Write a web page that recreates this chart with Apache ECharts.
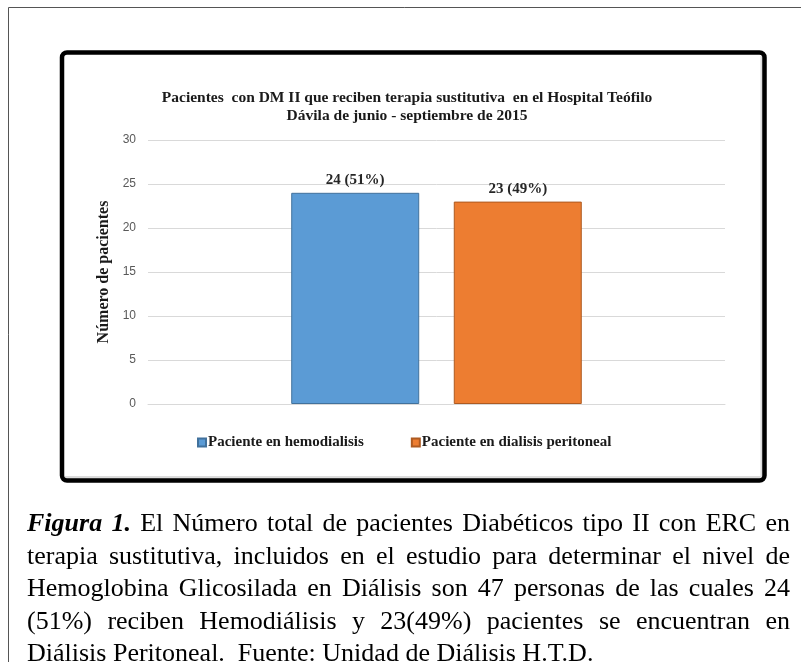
<!DOCTYPE html>
<html>
<head>
<meta charset="utf-8">
<script src="https://cdn.jsdelivr.net/npm/echarts@6/dist/echarts.min.js"></script>
<style>
  html, body { margin: 0; padding: 0; background: #fff; }
  #wrap { position: relative; width: 801px; height: 662px; overflow: hidden; }
  #chart { position: absolute; left: 0; top: 0; width: 801px; height: 662px; }
  #caption { position: absolute; left: 27px; top: 507px; width: 763px;
    font-family: "Liberation Serif", "DejaVu Serif", serif; font-size: 26px; color: #000; }
  #caption .ln { height: 32.5px; line-height: 32.5px; white-space: nowrap; }
  #caption .j { text-align: justify; text-align-last: justify; white-space: normal; overflow: hidden; }
</style>
</head>
<body>
<div id="wrap">
  <div id="chart"></div>
  <div id="caption">
    <div class="ln j"><b><i>Figura 1.</i></b> El Número total de pacientes Diabéticos tipo II con ERC en</div>
    <div class="ln j">terapia sustitutiva, incluidos en el estudio para determinar el nivel de</div>
    <div class="ln j">Hemoglobina Glicosilada en Diálisis son 47 personas de las cuales 24</div>
    <div class="ln j">(51%) reciben Hemodiálisis y 23(49%) pacientes se encuentran en</div>
    <div class="ln">Diálisis Peritoneal.&nbsp; Fuente: Unidad de Diálisis H.T.D.</div>
  </div>
</div>
<script>
// ---- data ----
const categories = [''];
const seriesNames = ['Paciente en hemodialisis', 'Paciente en dialisis peritoneal'];
const hemodialisis = [24];
const peritoneal = [23];
const percentLabels = ['51%', '49%'];
const titleLines = ['Pacientes  con DM II que reciben terapia sustitutiva  en el Hospital Teófilo',
                    'Dávila de junio - septiembre de 2015'];
const yAxisName = 'Número de pacientes';
const yMin = 0, yMax = 30, yStep = 5;

// ---- chart ----
const chart = echarts.init(document.getElementById('chart'), null, { renderer: 'canvas' });
const serif = '"Liberation Serif", "DejaVu Serif", serif';
const colors = ['#5B9BD5', '#ED7D31'];
const borders = ['#41719C', '#AE5A21'];
const seriesData = [hemodialisis, peritoneal];

const option = {
  animation: false,
  backgroundColor: '#fff',
  graphic: [
    { type: 'polyline', silent: true, z: -10,
      shape: { points: [[8.5, 662], [8.5, 7.5], [801, 7.5]] },
      style: { stroke: '#555', lineWidth: 1, fill: null } },
    { type: 'line', silent: true, z: -10,
      shape: { x1: 65, y1: 477.5, x2: 762, y2: 477.5 },
      style: { stroke: '#dcdcdc', lineWidth: 3 } },
    { type: 'line', silent: true, z: -10,
      shape: { x1: 762, y1: 56, x2: 762, y2: 478 },
      style: { stroke: '#dcdcdc', lineWidth: 3 } },
    { type: 'rect', silent: true, z: -9,
      shape: { x: 62, y: 52.5, width: 702.5, height: 428, r: 5 },
      style: { stroke: '#000', lineWidth: 4.5, fill: null } }
  ],
  title: {
    text: titleLines.join('\n'),
    left: 402, top: 84, textAlign: 'center',
    textStyle: { fontFamily: serif, fontWeight: 'bold', fontSize: 15.5, lineHeight: 18, color: '#1a1a1a' }
  },
  legend: {
    data: seriesNames,
    left: 197, top: 435, padding: 0,
    itemWidth: 8, itemHeight: 8, itemGap: 47,
    icon: 'rect',
    textStyle: { fontFamily: serif, fontWeight: 'bold', fontSize: 15, color: '#1a1a1a', padding: [0, 0, 0, -3] }
  },
  grid: { left: 148, right: 76, top: 140, bottom: 258, containLabel: false },
  xAxis: {
    type: 'category', data: categories,
    axisLine: { lineStyle: { color: '#D9D9D9', width: 1 } },
    axisTick: { show: false }, axisLabel: { show: false }
  },
  yAxis: {
    type: 'value', min: yMin, max: yMax, interval: yStep,
    name: yAxisName, nameLocation: 'middle', nameGap: 31,
    nameTextStyle: { fontFamily: serif, fontWeight: 'bold', fontSize: 16, color: '#1a1a1a' },
    axisLine: { show: false }, axisTick: { show: false },
    axisLabel: { margin: 12, color: '#595959', fontSize: 12, fontFamily: '"Liberation Sans", Arial, sans-serif' },
    splitLine: { lineStyle: { color: '#D9D9D9', width: 1 } }
  },
  series: seriesNames.map((name, i) => ({
    name: name, type: 'bar', data: seriesData[i],
    barWidth: 128, barGap: '27%',
    itemStyle: { color: colors[i], borderColor: borders[i], borderWidth: 1 },
    label: {
      show: true, position: 'top', distance: 5,
      formatter: (p) => p.value + ' (' + percentLabels[i] + ')',
      fontFamily: serif, fontWeight: 'bold', fontSize: 15, color: '#262626'
    }
  }))
};
chart.setOption(option);
</script>
</body>
</html>
